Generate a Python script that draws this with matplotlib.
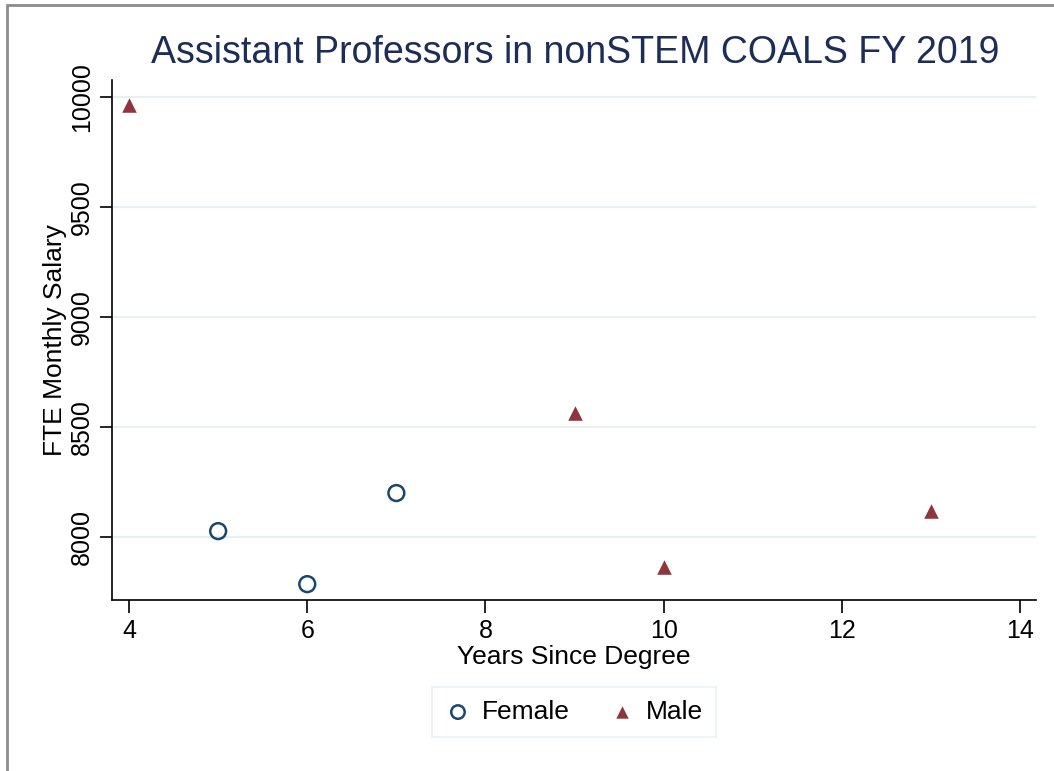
import numpy as np
import matplotlib.pyplot as plt
from matplotlib.patches import Rectangle

# ---------------- DATA ----------------
female_years = [5, 6, 7]
female_salary = [8027, 7786, 8200]

male_years = [4, 9, 10, 13]
male_salary = [9964, 8562, 7864, 8118]

x_ticks = [4, 6, 8, 10, 12, 14]
y_ticks = [8000, 8500, 9000, 9500, 10000]

navy = "#1a476f"
maroon = "#90353b"
title_col = "#1c2d57"
grid_col = "#e8f0f2"

plt.rcParams['font.family'] = ['Liberation Sans', 'DejaVu Sans']

fig = plt.figure(figsize=(10.54, 7.71), dpi=100)
ax = fig.add_axes([0.1063, 0.2218, 0.8767, 0.6744])

# outer frame of the graph region
fig.patches.append(Rectangle((7 / 1054, -0.1), 1.2, 1 - 5 / 771 + 0.1,
                             transform=fig.transFigure, fill=False,
                             edgecolor="#8c8c8c", linewidth=2, zorder=0))

ax.scatter(female_years, female_salary, s=130, facecolors="none",
           edgecolors=navy, linewidths=1.8, label="Female", zorder=3)
ax.scatter(male_years, male_salary, s=110, marker="^", color=maroon,
           linewidths=0, label="Male", zorder=3)

ax.set_xlim(3.809, 14.18)
ax.set_ylim(7714, 10077)
ax.set_xticks(x_ticks)
ax.set_yticks(y_ticks)
ax.set_yticklabels([str(v) for v in y_ticks], rotation=90, va="center")
ax.tick_params(axis="both", labelsize=18, length=9, width=1.2, direction="out")
ax.tick_params(axis="y", pad=4)
ax.tick_params(axis="x", pad=5)

ax.yaxis.grid(True, color=grid_col, linewidth=1.6)
ax.set_axisbelow(True)
for s in ["top", "right"]:
    ax.spines[s].set_visible(False)
for s in ["left", "bottom"]:
    ax.spines[s].set_linewidth(1.2)

ax.set_xlabel("Years Since Degree", fontsize=19, labelpad=1)
ax.set_ylabel("FTE Monthly Salary", fontsize=19, labelpad=2)

fig.text(0.5455, 1 - 53 / 771, "Assistant Professors in nonSTEM COALS FY 2019",
         fontsize=27, color=title_col, ha="center", va="center")

leg = fig.legend(loc="center", bbox_to_anchor=(574 / 1054, 1 - 712 / 771),
                 ncol=2, fontsize=19, frameon=True, fancybox=False,
                 borderpad=0.5, columnspacing=1.5, handletextpad=0.4,
                 handlelength=1.0, markerscale=0.85)
leg.get_frame().set_edgecolor("#e4ecef")
leg.get_frame().set_linewidth(1.2)

fig.savefig("out.png", dpi=100)
